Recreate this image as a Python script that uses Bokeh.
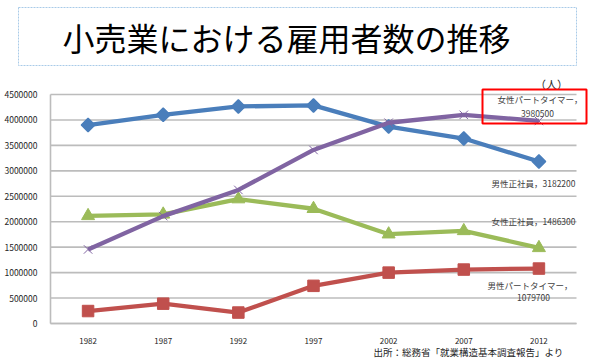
import math
from bokeh.plotting import figure
from bokeh.models import Range1d, Label, BoxAnnotation, FixedTicker, NumeralTickFormatter, LinearAxis
from bokeh.embed import file_html
from bokeh.resources import INLINE

years = [1982, 1987, 1992, 1997, 2002, 2007, 2012]
male_regular = [3900000, 4100000, 4265000, 4285000, 3870000, 3635000, 3182200]
female_regular = [2115000, 2145000, 2445000, 2255000, 1755000, 1820000, 1486300]
female_part = [1455000, 2110000, 2625000, 3410000, 3945000, 4100000, 3980500]
male_part = [245000, 390000, 215000, 740000, 1000000, 1060000, 1079700]
y_ticks = [0, 500000, 1000000, 1500000, 2000000, 2500000, 3000000, 3500000, 4000000, 4500000]

title_text = "小売業における雇用者数の推移"
unit_text = "（人）"
source_text = "出所：総務省「就業構造基本調査報告」より"

JP = "Noto Sans CJK JP"

W, H = 600, 360
# plot-area placement in pixels (layout, not data)
PX_L, PX_R, PX_T, PX_B = 50, 576, 94, 323
x_lo, x_hi = years[0] - 2.5, years[-1] + 2.5
y_lo, y_hi = y_ticks[0], y_ticks[-1]
xs = (x_hi - x_lo) / (PX_R - PX_L)
ys = (y_hi - y_lo) / (PX_B - PX_T)
x_range = Range1d(x_lo - PX_L * xs, x_hi + (W - PX_R) * xs)
y_range = Range1d(y_lo - (H - PX_B) * ys, y_hi + PX_T * ys)

p = figure(width=W, height=H, x_range=x_range, y_range=y_range,
           output_backend="svg", toolbar_location=None, min_border=0,
           x_axis_type=None, y_axis_type=None)
p.outline_line_color = None
p.background_fill_color = "white"
p.border_fill_color = "white"

# horizontal gridlines
p.segment(x0=x_lo, x1=x_hi, y0=y_ticks, y1=y_ticks, line_color="#bcbcbc", line_width=1.6)

yax = LinearAxis(ticker=FixedTicker(ticks=y_ticks), formatter=NumeralTickFormatter(format="0"),
                 fixed_location=x_lo, bounds=(y_lo, y_hi))
xax = LinearAxis(ticker=FixedTicker(ticks=years), formatter=NumeralTickFormatter(format="0"),
                 fixed_location=y_lo, bounds=(x_lo, x_hi))
for ax in (xax, yax):
    ax.axis_line_color = "#bcbcbc"
    ax.axis_line_width = 1.6
    ax.major_tick_line_color = None
    ax.minor_tick_line_color = None
    ax.major_label_text_color = "#262626"
    ax.major_label_text_font = JP
yax.major_label_text_font_size = "8.5px"
yax.major_label_standoff = 7
xax.major_label_text_font_size = "8px"
xax.major_label_standoff = 8
p.add_layout(yax, "left")
p.add_layout(xax, "below")

blue = "#4a7ebb"
red = "#c0504d"
green = "#9bbb59"
purple = "#8064a2"

p.line(years, male_regular, line_color=blue, line_width=4.3, line_join="round")
p.scatter(years, male_regular, marker="square", angle=math.pi / 4, size=9.5,
          fill_color=blue, line_color=blue, line_width=1.5)

p.line(years, male_part, line_color=red, line_width=4.3, line_join="round")
p.scatter(years, male_part, marker="square", size=11.5, fill_color=red, line_color=red)

p.line(years, female_regular, line_color=green, line_width=4.3, line_join="round")
p.scatter(years, female_regular, marker="triangle", size=13, fill_color=green, line_color=green)

p.line(years, female_part, line_color=purple, line_width=4.3, line_join="round")
p.scatter(years, female_part, marker="x", size=12, line_color=purple, line_width=1)

cv = dict(left_units="canvas", right_units="canvas", top_units="canvas", bottom_units="canvas")
# Title box
p.add_layout(BoxAnnotation(left=18, right=576, top=7, bottom=65, fill_alpha=0,
                           line_color="#a9cbe8", line_alpha=1, line_width=1, line_dash="2 1", **cv))
p.add_layout(Label(x=286, y=36, x_units="canvas", y_units="canvas", text=title_text,
                   text_font=JP, text_font_size="32px", text_align="center", text_baseline="middle",
                   text_color="#000000"))

# unit
p.add_layout(Label(x=551, y=83, x_units="canvas", y_units="canvas", text=unit_text,
                   text_font=JP, text_font_size="11px", text_align="center", text_baseline="middle",
                   text_color="#262626"))

# red highlight box
p.add_layout(BoxAnnotation(left=482, right=586, top=89, bottom=123, fill_alpha=0,
                           line_color="#ff0000", line_alpha=1, line_width=2, **cv))

lab = dict(x_units="canvas", y_units="canvas", text_font=JP, text_font_size="8.5px",
           text_baseline="middle", text_color="#404040")
p.add_layout(Label(x=497, y=98, text="女性パートタイマー，", text_align="left", **lab))
p.add_layout(Label(x=537, y=113, text="3980500", text_align="center", **lab))
p.add_layout(Label(x=575, y=182, text="男性正社員，3182200", text_align="right", **lab))
p.add_layout(Label(x=575, y=220, text="女性正社員，1486300", text_align="right", **lab))
p.add_layout(Label(x=572, y=284, text="男性パートタイマー，", text_align="right", **lab))
p.add_layout(Label(x=533, y=297, text="1079700", text_align="center", **lab))

p.add_layout(Label(x=563, y=351, x_units="canvas", y_units="canvas", text=source_text,
                   text_font=JP, text_font_size="9.5px", text_align="right", text_baseline="middle",
                   text_color="#262626"))

open("out.html", "w").write(file_html(p, INLINE))
